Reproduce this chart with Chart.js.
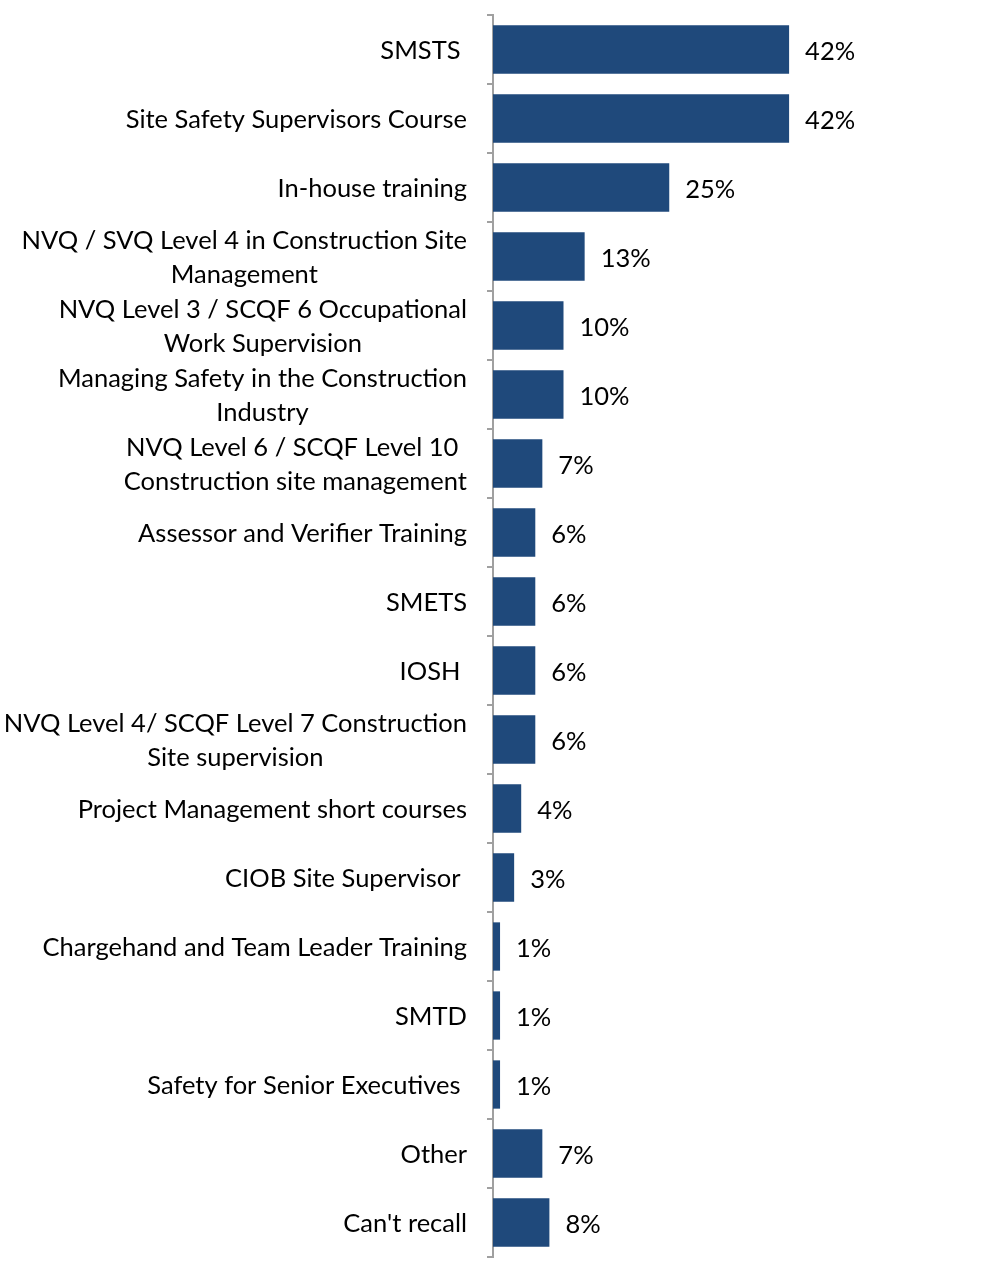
<!DOCTYPE html>
<html>
<head>
<meta charset="utf-8">
<script src="https://cdn.jsdelivr.net/npm/chart.js@4/dist/chart.umd.min.js"></script>
<style>
  body { margin: 0; background: #fff; }
</style>
</head>
<body>
<canvas id="barChart" width="986" height="1278"></canvas>
<script>
const categories = [
    ["SMSTS "],
    ["Site Safety Supervisors Course"],
    ["In-house training"],
    ["NVQ / SVQ Level 4 in Construction Site", "Management"],
    ["NVQ Level 3 / SCQF 6 Occupational", "Work Supervision"],
    ["Managing Safety in the Construction", "Industry"],
    ["NVQ Level 6 / SCQF Level 10 ", "Construction site management"],
    ["Assessor and Verifier Training"],
    ["SMETS"],
    ["IOSH "],
    ["NVQ Level 4/ SCQF Level 7 Construction", "Site supervision"],
    ["Project Management short courses"],
    ["CIOB Site Supervisor "],
    ["Chargehand and Team Leader Training"],
    ["SMTD"],
    ["Safety for Senior Executives "],
    ["Other"],
    ["Can't recall"]
];
const values = [42, 42, 25, 13, 10, 10, 7, 6, 6, 6, 6, 4, 3, 1, 1, 1, 7, 8];

const FONT = "25.5px Lato, Calibri, sans-serif";

// labels on the left, each block centred on itself and right aligned to the axis
const categoryLabels = {
    id: 'categoryLabels',
    afterDraw(chart) {
        const ctx = chart.ctx;
        const yScale = chart.scales.y;
        const rightEdge = yScale.right - 26;
        ctx.save();
        ctx.font = FONT;
        ctx.fillStyle = "#000";
        ctx.textBaseline = "middle";
        ctx.textAlign = "center";
        categories.forEach((lines, i) => {
            const y = yScale.getPixelForValue(i) + 1;
            const w = Math.max(...lines.map(l => ctx.measureText(l).width));
            const cx = rightEdge - w / 2;
            const lh = 34;
            const top = y - (lines.length - 1) * lh / 2;
            lines.forEach((l, j) => ctx.fillText(l, cx, top + j * lh));
        });
        ctx.restore();
    }
};

// percentage labels after each bar
const valueLabels = {
    id: 'valueLabels',
    afterDatasetsDraw(chart) {
        const ctx = chart.ctx;
        const meta = chart.getDatasetMeta(0);
        ctx.save();
        ctx.font = FONT;
        ctx.fillStyle = "#000";
        ctx.textBaseline = "middle";
        ctx.textAlign = "left";
        meta.data.forEach((bar, i) => {
            ctx.fillText(values[i] + "%", bar.x + 16, bar.y + 2);
        });
        ctx.restore();
    }
};

new Chart(document.getElementById('barChart'), {
    type: 'bar',
    data: {
        labels: categories.map(c => c.join(" ")),
        datasets: [{
            data: values,
            backgroundColor: "#1f497b",
            borderWidth: 0,
            barPercentage: 0.7,
            categoryPercentage: 1
        }]
    },
    options: {
        indexAxis: 'y',
        responsive: false,
        animation: false,
        layout: { padding: { top: 15, bottom: 21, left: 0, right: 70 } },
        plugins: {
            legend: { display: false },
            tooltip: { enabled: false }
        },
        scales: {
            x: {
                display: false,
                min: 0,
                max: 60
            },
            y: {
                offset: true,
                ticks: { display: false },
                grid: {
                    offset: true,
                    drawOnChartArea: false,
                    drawTicks: true,
                    tickLength: 6,
                    color: "#a0a0a0",
                    lineWidth: 2
                },
                border: { color: "#a0a0a0", width: 2 },
                afterFit(scale) { scale.width = 493; }
            }
        }
    },
    plugins: [categoryLabels, valueLabels]
});
</script>
</body>
</html>
